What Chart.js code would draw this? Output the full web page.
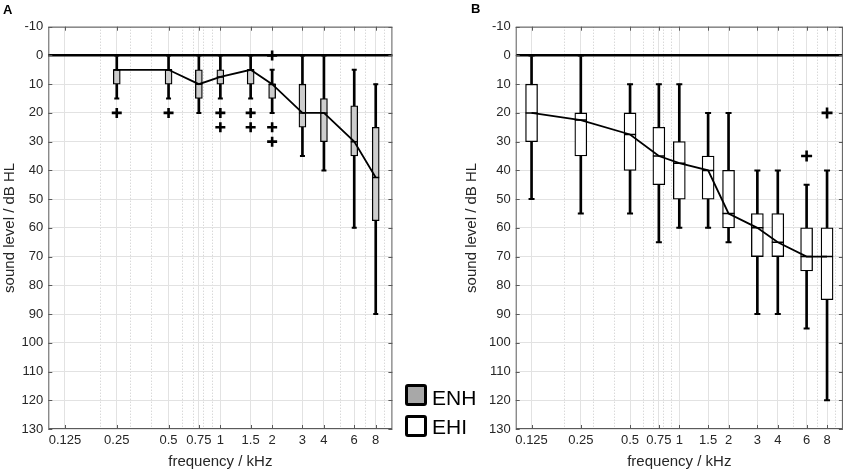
<!DOCTYPE html>
<html>
<head>
<meta charset="utf-8">
<script src="https://cdn.jsdelivr.net/npm/chart.js"></script>
<style>
  html, body { margin:0; padding:0; background:#fff; }
  body { width:851px; height:473px; position:relative; overflow:hidden; font-family:"Liberation Sans", Arial, sans-serif; }
  canvas { position:absolute; top:0; }
  .plabel { position:absolute; font-weight:bold; font-size:13px; color:#000; }
  .sw { position:absolute; width:16px; height:16px; border:3px solid #000; border-radius:3px; }
  .lt { position:absolute; font-size:21px; color:#000; line-height:22px; }
</style>
</head>
<body>
<canvas id="cA" width="400" height="473" style="left:0px"></canvas>
<canvas id="cB" width="396" height="473" style="left:455px"></canvas>
<div class="plabel" style="left:3px;top:2px">A</div>
<div class="plabel" style="left:471px;top:1px">B</div>
<div class="sw" style="left:405px;top:384px;background:#a8a8a8"></div>
<div class="lt" style="left:432px;top:387px">ENH</div>
<div class="sw" style="left:405px;top:415px;background:#fff"></div>
<div class="lt" style="left:432px;top:416px">EHI</div>
<script>
// ---------- data ----------
const freqTicks = [0.125, 0.25, 0.5, 0.75, 1, 1.5, 2, 3, 4, 6, 8];
const freqTickLabels = ['0.125', '0.25', '0.5', '0.75', '1', '1.5', '2', '3', '4', '6', '8'];
const freqMinorTicks = [0.2, 0.3, 0.4, 0.6, 0.7, 0.8, 0.9, 5, 7, 9];

// Panel A (ENH)
const freqA = [0.25, 0.5, 0.75, 1, 1.5, 2, 3, 4, 6, 8];
const minA  = [0, 0, 0, 0, 0, 5, 0, 0, 5, 10];
const q1A   = [5, 5, 5, 5, 5, 10, 10, 15, 17.5, 25];
const medA  = [5, 5, 10, 7.5, 5, 10, 20, 20, 30, 42.5];
const q3A   = [10, 10, 15, 10, 10, 15, 25, 30, 35, 57.5];
const maxA  = [15, 15, 20, 15, 15, 20, 35, 40, 60, 90];
const outFreqA = [0.25, 0.5, 1, 1, 1.5, 1.5, 2, 2, 2];
const outValA  = [20, 20, 20, 25, 20, 25, 0, 25, 30];

// Panel B (EHI)
const freqB = [0.125, 0.25, 0.5, 0.75, 1, 1.5, 2, 3, 4, 6, 8];
const minB  = [0, 0, 10, 10, 10, 20, 20, 40, 40, 45, 40];
const q1B   = [10, 20, 20, 25, 30, 35, 40, 55, 55, 60, 60];
const medB  = [20, 22.5, 27.5, 35, 37.5, 40, 55, 60, 65, 70, 70];
const q3B   = [30, 35, 40, 45, 50, 50, 60, 70, 70, 75, 85];
const maxB  = [50, 55, 55, 65, 60, 60, 65, 90, 90, 95, 120];
const outFreqB = [6, 8];
const outValB  = [35, 20];

// ---------- chart ----------
Chart.defaults.font.family = '"Liberation Sans", Arial, sans-serif';
Chart.defaults.font.size = 13;
Chart.defaults.color = '#262626';

const framePlugin = {
  id: 'frame',
  afterDatasetsDraw(chart) {
    const {ctx, chartArea: a, scales} = chart;
    ctx.save();
    ctx.strokeStyle = '#5a5a5a';
    ctx.lineWidth = 1;
    ctx.strokeRect(a.left + 0.5, a.top + 0.5, a.right - a.left - 1, a.bottom - a.top - 1);
    ctx.beginPath();
    scales.x.ticks.forEach(t => {
      const p = Math.round(scales.x.getPixelForValue(t.value)) + 0.5;
      ctx.moveTo(p, a.bottom); ctx.lineTo(p, a.bottom - 4);
      ctx.moveTo(p, a.top); ctx.lineTo(p, a.top + 4);
    });
    scales.y.ticks.forEach(t => {
      const p = Math.round(scales.y.getPixelForValue(t.value)) + 0.5;
      ctx.moveTo(a.left, p); ctx.lineTo(a.left + 4, p);
      ctx.moveTo(a.right, p); ctx.lineTo(a.right - 4, p);
    });
    ctx.stroke();
    ctx.restore();
  }
};

function makeChart(id, cfg) {
  const {freq, mn, q1, med, q3, mx, outF, outV, fill, boxW, capR, crossR, yAxisWidth, titlePad, padRight} = cfg;
  const pts = (xs, ys) => xs.map((f, i) => ({x: f, y: ys[i]}));
  const datasets = [
    { type: 'line', order: 0, showLine: false, data: pts(freq, med), pointStyle: 'line',
      pointRadius: boxW / 2, pointBorderWidth: 1.5, pointBorderColor: '#000', pointBackgroundColor: '#000' },
    { type: 'line', order: 1, data: pts(freq, med), borderColor: '#000', borderWidth: 1.8,
      pointRadius: 0, fill: false, tension: 0 },
    { type: 'line', order: 2, showLine: false, data: pts(outF, outV), pointStyle: 'cross',
      pointRadius: crossR, pointBorderWidth: 2.6, pointBorderColor: '#000' },
    { type: 'bar', order: 3, data: freq.map((f, i) => ({x: f, y: [q1[i], q3[i]]})),
      backgroundColor: fill, borderColor: '#000', borderWidth: 1.3, borderSkipped: false,
      grouped: false, barThickness: boxW, maxBarThickness: boxW },
    { type: 'line', order: 4, showLine: false, data: pts(freq, mn).concat(pts(freq, mx)),
      pointStyle: 'line', pointRadius: capR, pointBorderWidth: 2, pointBorderColor: '#000' },
    { type: 'bar', order: 5, data: freq.map((f, i) => ({x: f, y: [mn[i], mx[i]]})),
      backgroundColor: '#000', borderWidth: 0, grouped: false, barThickness: 2, maxBarThickness: 2 }
  ];
  datasets.forEach(d => { d.xAxisID = 'x'; d.yAxisID = 'y'; });

  return new Chart(document.getElementById(id), {
    type: 'bar',
    data: { datasets },
    plugins: [framePlugin],
    options: {
      responsive: false,
      animation: false,
      events: [],
      layout: { padding: { top: 26.7, right: padRight, bottom: 0, left: 0 } },
      plugins: { legend: { display: false }, tooltip: { enabled: false } },
      scales: {
        x: {
          type: 'logarithmic', position: 'bottom', min: 0.1, max: 10, offset: false,
          afterBuildTicks: s => { s.ticks = freqTicks.map(v => ({value: v, major: false})); },
          afterFit: s => { s.height = 44; },
          ticks: { autoSkip: false, maxRotation: 0, minRotation: 0, padding: 4,
                   callback: (v, i) => freqTickLabels[i] },
          grid: { offset: false, drawTicks: false, color: '#e2e2e2', lineWidth: 1 },
          border: { display: false },
          title: { display: true, text: 'frequency / kHz', font: { size: 15 }, padding: { top: 0, bottom: 2 } }
        },
        xMinor: {
          type: 'logarithmic', position: 'bottom', min: 0.1, max: 10, offset: false,
          afterBuildTicks: s => { s.ticks = freqMinorTicks.map(v => ({value: v, major: false})); },
          afterFit: s => { s.height = 0; },
          ticks: { display: false },
          grid: { offset: false, drawTicks: false, color: '#c8c8c8', lineWidth: 1 },
          border: { display: false, dash: [1, 2] }
        },
        y: {
          type: 'linear', reverse: true, min: -10, max: 130, beginAtZero: false,
          afterFit: s => { s.width = yAxisWidth; },
          ticks: { stepSize: 10, padding: 5 },
          grid: {
            drawTicks: false,
            color: c => c.tick && c.tick.value === 0 ? '#000' : '#e2e2e2',
            lineWidth: c => c.tick && c.tick.value === 0 ? 2.5 : 1
          },
          border: { display: false },
          title: { display: true, text: 'sound level / dB HL', font: { size: 15 }, padding: { top: titlePad, bottom: 0 } }
        }
      }
    }
  });
}

makeChart('cA', { freq: freqA, mn: minA, q1: q1A, med: medA, q3: q3A, mx: maxA,
  outF: outFreqA, outV: outValA, fill: '#cdcdcd', boxW: 7, capR: 2.5, crossR: 5,
  yAxisWidth: 48.3, titlePad: 1, padRight: 7 });
makeChart('cB', { freq: freqB, mn: minB, q1: q1B, med: medB, q3: q3B, mx: maxB,
  outF: outFreqB, outV: outValB, fill: '#ffffff', boxW: 12, capR: 3, crossR: 5.5,
  yAxisWidth: 60.7, titlePad: 8, padRight: 5 });
</script>
</body>
</html>
